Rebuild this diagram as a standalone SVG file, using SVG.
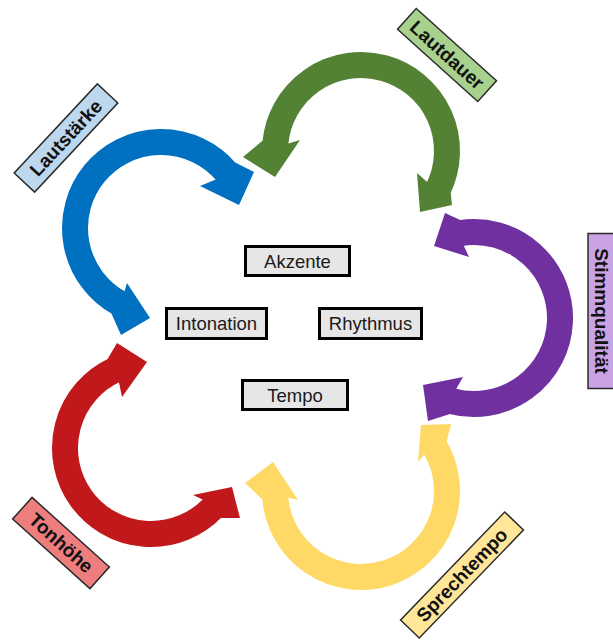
<svg xmlns="http://www.w3.org/2000/svg" width="613" height="641" viewBox="0 0 613 641">
<style>
.band{fill:none;stroke-width:26}
.box rect{fill:#E7E6E6;stroke:#000;stroke-width:3}
.box text{font-family:"Liberation Sans",Arial,sans-serif;font-size:18.5px;fill:#1a1a1a;text-anchor:middle;dominant-baseline:central}
.lbl rect{stroke:#2b2b2b;stroke-width:1.5}
.lbl text{font-family:"Liberation Sans",Arial,sans-serif;font-size:19px;font-weight:bold;fill:#111;text-anchor:middle;dominant-baseline:central}
</style>
<rect width="613" height="641" fill="#fff"/>
<g id="connectors">
  <g id="arrow-blue" fill="#0070C0">
    <path class="band" stroke="#0070C0" d="M119.31,303.22 A86,86 0 1 1 226.40,172.15"/>
    <polygon points="215.7,179.6 200,186 239,205 254,172 235.2,162.4"/>
    <polygon points="124.5,291.2 127,283 150,318 121,335 111.5,313.7"/>
  </g>
  <g id="arrow-green" fill="#548235">
    <path class="band" stroke="#548235" d="M275.33,143.50 A86,86 0 1 1 438.30,188.70"/>
    <polygon points="288.4,143.4 300,140 275,177 243,157 262.5,140.7"/>
    <polygon points="427.2,181.9 417,173 420,212 452,205 450.7,192.8"/>
  </g>
  <g id="arrow-purple" fill="#7030A0">
    <path class="band" stroke="#7030A0" d="M451.74,401.07 A86,86 0 1 0 460.55,233.06"/>
    <polygon points="463.8,245.7 469,257 434,246 445,213 460.2,220.0"/>
    <polygon points="456.3,388.8 463,377 423,385 428,421 450.0,414.1"/>
  </g>
  <g id="arrow-yellow" fill="#FFD966">
    <path class="band" stroke="#FFD966" d="M434.72,446.71 A86,86 0 1 1 275.21,497.00"/>
    <polygon points="288.3,497.4 298,500 273,462 245,483 262.4,499.6"/>
    <polygon points="424.2,454.5 418,462 421,425 451,424 446.7,441.5"/>
  </g>
  <g id="arrow-red" fill="#C0181B">
    <path class="band" stroke="#C0181B" d="M212.86,507.74 A86,86 0 1 1 114.66,370.06"/>
    <polygon points="119.0,382.4 122,397 147,362 117,343 107.6,359.0"/>
    <polygon points="202.6,499.6 193,495 232,487 240,518 221,518"/>
  </g>
</g>
<g id="akzente" class="box"><rect x="245.5" y="246.5" width="104" height="29"/><text x="297.5" y="261">Akzente</text></g>
<g id="intonation" class="box"><rect x="166.5" y="308.5" width="100" height="30"/><text x="216.5" y="323.5">Intonation</text></g>
<g id="rhythmus" class="box"><rect x="319.5" y="308.5" width="102" height="30"/><text x="370.5" y="323.5">Rhythmus</text></g>
<g id="tempo" class="box"><rect x="242.5" y="380.5" width="105" height="29"/><text x="295" y="395">Tempo</text></g>
<g id="lautstaerke" class="lbl" transform="translate(66,138) rotate(-47)"><rect x="-61" y="-14" width="122" height="28" fill="#BDD7EE"/><text x="0" y="0">Lautstärke</text></g>
<g id="lautdauer" class="lbl" transform="translate(447,55) rotate(42)"><rect x="-54" y="-14" width="108" height="28" fill="#A9D18E"/><text x="0" y="0">Lautdauer</text></g>
<g id="stimmqualitaet" class="lbl" transform="translate(601.5,311) rotate(90)"><rect x="-77.5" y="-13.5" width="155" height="27" fill="#C9A3E3"/><text x="0" y="0">Stimmqualität</text></g>
<g id="tonhoehe" class="lbl" transform="translate(61,543) rotate(42)"><rect x="-52" y="-14.5" width="104" height="29" fill="#EE7D7D"/><text x="0" y="0">Tonhöhe</text></g>
<g id="sprechtempo" class="lbl" transform="translate(462,575) rotate(-46)"><rect x="-75" y="-13" width="150" height="26" fill="#FFE699"/><text x="0" y="0">Sprechtempo</text></g>
</svg>
